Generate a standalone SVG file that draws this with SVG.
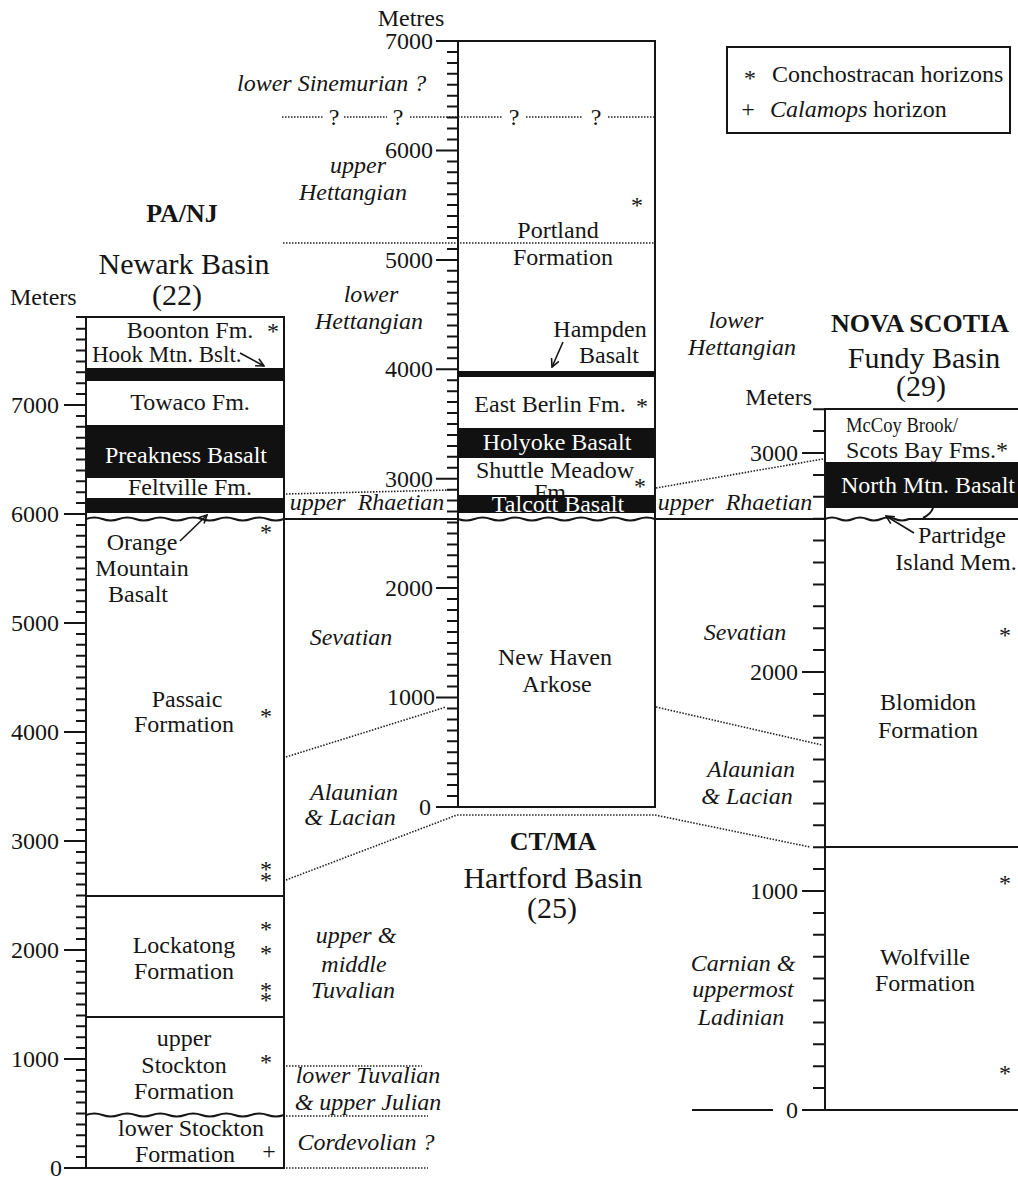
<svg xmlns="http://www.w3.org/2000/svg" width="1018" height="1178" viewBox="0 0 1018 1178">
<style>
text{font-family:"Liberation Serif","Times New Roman",serif;font-size:24px;fill:#151515}
.i{font-style:italic}
.b{font-weight:bold;font-size:26px}
.h{font-size:30px}
.w{fill:#fff}
.m{text-anchor:middle}
.e{text-anchor:end}
.box{fill:#fff;stroke:#151515;stroke-width:2}
.ln{fill:none;stroke:#151515;stroke-width:2}
.band{fill:#111}
.dot{fill:none;stroke:#222;stroke-width:1.6;stroke-dasharray:1.5 1.5}
.arr{fill:none;stroke:#151515;stroke-width:1.6}
</style>
<defs>
<marker id="ah" viewBox="0 0 10 10" refX="9" refY="5" markerWidth="10" markerHeight="10" orient="auto" markerUnits="userSpaceOnUse"><path d="M1 1 L9 5 L1 9" fill="none" stroke="#151515" stroke-width="1.6"/></marker>
</defs>
<rect width="1018" height="1178" fill="#fff"/>

<g id="legend">
<rect x="727" y="47" width="283" height="86" fill="none" stroke="#151515" stroke-width="2"/>
<text x="750" y="86" class="m">*</text>
<text x="772" y="82">Conchostracan horizons</text>
<text x="748" y="117" class="m">+</text>
<text x="770" y="117"><tspan class="i">Calamops</tspan> horizon</text>
</g>

<g id="col-newark">
<text x="182" y="222" class="b m">PA/NJ</text>
<text x="184" y="274" class="h m">Newark Basin</text>
<text x="177" y="305" class="h m">(22)</text>
<text x="10" y="305">Meters</text>
<rect x="86" y="317" width="198" height="851" class="box"/>
<rect x="86" y="368" width="198" height="13" class="band"/>
<rect x="86" y="425" width="198" height="53" class="band"/>
<rect x="86" y="498" width="198" height="15" class="band"/>
<path class="ln" d="M86 896H284M86 1017H284"/>
<path class="ln" d="M86 519q8.25 -3 16.5 0t16.5 0t16.5 0t16.5 0t16.5 0t16.5 0t16.5 0t16.5 0t16.5 0t16.5 0t16.5 0t16.5 0"/>
<path class="ln" d="M86 1115q8.25 -3 16.5 0t16.5 0t16.5 0t16.5 0t16.5 0t16.5 0t16.5 0t16.5 0t16.5 0t16.5 0t16.5 0t16.5 0"/>
<path class="ln" d="M76 1157.1h10M76 1146.2h10M76 1135.3h10M76 1124.4h10M76 1113.5h10M76 1102.6h10M76 1091.7h10M76 1080.8h10M76 1069.9h10M76 1048.1h10M76 1037.2h10M76 1026.3h10M76 1015.4h10M76 1004.5h10M76 993.6h10M76 982.7h10M76 971.8h10M76 960.9h10M76 939.1h10M76 928.2h10M76 917.3h10M76 906.4h10M76 895.5h10M76 884.6h10M76 873.7h10M76 862.8h10M76 851.9h10M76 830.1h10M76 819.2h10M76 808.3h10M76 797.4h10M76 786.5h10M76 775.6h10M76 764.7h10M76 753.8h10M76 742.9h10M76 721.1h10M76 710.2h10M76 699.3h10M76 688.4h10M76 677.5h10M76 666.6h10M76 655.7h10M76 644.8h10M76 633.9h10M76 612.1h10M76 601.2h10M76 590.3h10M76 579.4h10M76 568.5h10M76 557.6h10M76 546.7h10M76 535.8h10M76 524.9h10M76 503.1h10M76 492.2h10M76 481.3h10M76 470.4h10M76 459.5h10M76 448.6h10M76 437.7h10M76 426.8h10M76 415.9h10M76 394.1h10M76 383.2h10M76 372.3h10M76 361.4h10M76 350.5h10M76 339.6h10M76 328.7h10M76 317h10"/>
<path class="ln" d="M64 1168h22M64 1059h22M64 950h22M64 841h22M64 732h22M64 623h22M64 514h22M64 405h22"/>
<text x="59" y="413" class="e">7000</text>
<text x="59" y="522" class="e">6000</text>
<text x="59" y="631" class="e">5000</text>
<text x="59" y="740" class="e">4000</text>
<text x="59" y="849" class="e">3000</text>
<text x="59" y="958" class="e">2000</text>
<text x="59" y="1067" class="e">1000</text>
<text x="62" y="1176" class="e">0</text>
<text x="190" y="338" class="m">Boonton Fm.</text>
<text x="273" y="339" class="m">*</text>
<text x="92" y="362" style="font-size:23px">Hook Mtn. Bslt.</text>
<text x="190" y="410" class="m">Towaco Fm.</text>
<text x="186" y="463" class="m w">Preakness Basalt</text>
<text x="190" y="495" class="m">Feltville Fm.</text>
<text x="142" y="550" class="m">Orange</text>
<text x="142" y="576" class="m">Mountain</text>
<text x="138" y="602" class="m">Basalt</text>
<text x="187" y="707" class="m">Passaic</text>
<text x="184" y="732" class="m">Formation</text>
<text x="184" y="953" class="m">Lockatong</text>
<text x="184" y="979" class="m">Formation</text>
<text x="184" y="1046" class="m">upper</text>
<text x="184" y="1073" class="m">Stockton</text>
<text x="184" y="1099" class="m">Formation</text>
<text x="191" y="1136" class="m">lower Stockton</text>
<text x="185" y="1162" class="m">Formation</text>
<text x="269" y="1159" class="m">+</text>
<text x="266" y="540" class="m">*</text>
<text x="266" y="724" class="m">*</text>
<text x="266" y="877" class="m">*</text>
<text x="266" y="888" class="m">*</text>
<text x="266" y="937" class="m">*</text>
<text x="266" y="961" class="m">*</text>
<text x="266" y="998" class="m">*</text>
<text x="266" y="1008" class="m">*</text>
<text x="266" y="1070" class="m">*</text>
</g>

<g id="col-hartford">
<text x="411" y="26" class="m">Metres</text>
<rect x="458" y="41" width="197" height="766" class="box"/>
<text x="553" y="500" class="m">Fm.</text>
<rect x="458" y="371" width="197" height="6" class="band"/>
<rect x="458" y="428" width="197" height="30" class="band"/>
<rect x="458" y="495" width="197" height="18" class="band"/>
<path class="ln" d="M458 519q8.2 3 16.4 0t16.4 0t16.4 0t16.4 0t16.4 0t16.4 0t16.4 0t16.4 0t16.4 0t16.4 0t16.4 0t16.6 0"/>
<path class="ln" d="M447 796.1h11M447 785.1h11M447 774.2h11M447 763.2h11M447 752.3h11M447 741.3h11M447 730.4h11M447 719.5h11M447 708.5h11M447 686.6h11M447 675.7h11M447 664.7h11M447 653.8h11M447 642.9h11M447 631.9h11M447 621h11M447 610h11M447 599.1h11M447 577.2h11M447 566.3h11M447 555.3h11M447 544.4h11M447 533.4h11M447 522.5h11M447 511.5h11M447 500.6h11M447 489.7h11M447 467.8h11M447 456.8h11M447 445.9h11M447 434.9h11M447 424h11M447 413.1h11M447 402.1h11M447 391.2h11M447 380.2h11M447 358.3h11M447 347.4h11M447 336.5h11M447 325.5h11M447 314.6h11M447 303.6h11M447 292.7h11M447 281.7h11M447 270.8h11M447 248.9h11M447 238h11M447 227h11M447 216.1h11M447 205.1h11M447 194.2h11M447 183.2h11M447 172.3h11M447 161.4h11M447 139.5h11M447 128.5h11M447 117.6h11M447 106.6h11M447 95.7h11M447 84.7h11M447 73.8h11M447 62.9h11M447 51.9h11"/>
<path class="ln" d="M436 807h22M436 697.6h22M436 588.1h22M436 478.7h22M436 369.3h22M436 259.9h22M436 150.4h22M436 41h22"/>
<text x="433" y="49" class="e">7000</text>
<text x="433" y="158" class="e">6000</text>
<text x="433" y="268" class="e">5000</text>
<text x="433" y="377" class="e">4000</text>
<text x="433" y="487" class="e">3000</text>
<text x="433" y="596" class="e">2000</text>
<text x="435" y="705" class="e">1000</text>
<text x="431" y="815" class="e">0</text>
<text x="558" y="238" class="m">Portland</text>
<text x="563" y="265" class="m">Formation</text>
<text x="637" y="213" class="m">*</text>
<text x="600" y="337" class="m">Hampden</text>
<text x="609" y="363" class="m">Basalt</text>
<text x="550" y="412" class="m">East Berlin Fm.</text>
<text x="642" y="414" class="m">*</text>
<text x="557" y="450" class="m w">Holyoke Basalt</text>
<text x="555" y="478" class="m">Shuttle Meadow</text>
<text x="640" y="494" class="m">*</text>
<text x="558" y="512" class="m w">Talcott Basalt</text>
<text x="555" y="665" class="m">New Haven</text>
<text x="557" y="692" class="m">Arkose</text>
<text x="553" y="850" class="b m">CT/MA</text>
<text x="553" y="888" class="h m">Hartford Basin</text>
<text x="552" y="918" class="h m">(25)</text>
</g>

<g id="col-fundy">
<text x="920" y="332" class="b m">NOVA SCOTIA</text>
<text x="924" y="368" class="h m">Fundy Basin</text>
<text x="921" y="396" class="h m">(29)</text>
<text x="812" y="405" class="e">Meters</text>
<rect x="825" y="462" width="193" height="46" class="band"/>
<path class="ln" d="M1018 409H825V1110H1018M825 847H1018"/>
<path class="ln" d="M825 519q7 -3 14 0t14 0t14 0t14 0t14 0t14 0L1018 519M933 508q-2 6 -10 10"/>
<path class="ln" d="M692 1110H773"/>
<path class="ln" d="M813 1088.1h12M813 1066.2h12M813 1044.3h12M813 1022.4h12M813 1000.5h12M813 978.6h12M813 956.7h12M813 934.8h12M813 912.9h12M813 869.1h12M813 847.2h12M813 825.3h12M813 803.4h12M813 781.5h12M813 759.6h12M813 737.7h12M813 715.8h12M813 693.9h12M813 650.1h12M813 628.2h12M813 606.3h12M813 584.4h12M813 562.5h12M813 540.6h12M813 518.7h12M813 496.8h12M813 474.9h12M813 431.1h12M813 409.2h12"/>
<path class="ln" d="M802 1110h23M802 891h23M802 672h23M802 453h23"/>
<text x="798" y="461" class="e">3000</text>
<text x="798" y="680" class="e">2000</text>
<text x="798" y="899" class="e">1000</text>
<text x="798" y="1118" class="e">0</text>
<text x="846" y="432" style="font-size:20px" textLength="112" lengthAdjust="spacingAndGlyphs">McCoy Brook/</text>
<text x="846" y="458">Scots Bay Fms.*</text>
<text x="928" y="493" class="m w">North Mtn. Basalt</text>
<text x="962" y="543" class="m">Partridge</text>
<text x="956" y="570" class="m">Island Mem.</text>
<text x="928" y="710" class="m">Blomidon</text>
<text x="928" y="738" class="m">Formation</text>
<text x="925" y="965" class="m">Wolfville</text>
<text x="925" y="991" class="m">Formation</text>
<text x="1005" y="643" class="m">*</text>
<text x="1005" y="891" class="m">*</text>
<text x="1005" y="1081" class="m">*</text>
</g>

<g id="stage-labels">
<text x="237" y="91" class="i">lower Sinemurian ?</text>
<text x="334" y="125" class="m">?</text>
<text x="398" y="125" class="m">?</text>
<text x="514" y="125" class="m">?</text>
<text x="596" y="125" class="m">?</text>
<text x="358" y="173" class="i m">upper</text>
<text x="353" y="200" class="i m">Hettangian</text>
<text x="371" y="302" class="i m">lower</text>
<text x="369" y="329" class="i m">Hettangian</text>
<text x="736" y="328" class="i m">lower</text>
<text x="742" y="355" class="i m">Hettangian</text>
<text x="367" y="510" class="i m" style="word-spacing:6px">upper Rhaetian</text>
<text x="735" y="510" class="i m" style="word-spacing:6px">upper Rhaetian</text>
<text x="351" y="645" class="i m">Sevatian</text>
<text x="745" y="640" class="i m">Sevatian</text>
<text x="354" y="800" class="i m">Alaunian</text>
<text x="350" y="825" class="i m">&amp; Lacian</text>
<text x="751" y="777" class="i m">Alaunian</text>
<text x="747" y="804" class="i m">&amp; Lacian</text>
<text x="356" y="943" class="i m">upper &amp;</text>
<text x="354" y="972" class="i m">middle</text>
<text x="353" y="998" class="i m">Tuvalian</text>
<text x="743" y="971" class="i m">Carnian &amp;</text>
<text x="743" y="997" class="i m">uppermost</text>
<text x="741" y="1025" class="i m">Ladinian</text>
<text x="368" y="1083" class="i m">lower Tuvalian</text>
<text x="368" y="1110" class="i m">&amp; upper Julian</text>
<text x="366" y="1150" class="i m">Cordevolian ?</text>
</g>

<g id="connectors">
<path class="dot" d="M282 117H324M344 117H387M410 117H503M526 117H583M608 117H655"/>
<path class="dot" d="M283 243H655"/>
<path class="dot" d="M286 494L450 490"/>
<path class="dot" d="M656 488L823 459"/>
<path class="dot" d="M286 757L446 707"/>
<path class="dot" d="M656 707L822 745"/>
<path class="dot" d="M286 880L457 815H655L810 847"/>
<path class="dot" d="M286 1066H422M286 1116H428M286 1168H428"/>
<path class="ln" d="M284 519H458M655 519H825"/>
<path class="arr" d="M240 353L264 366" marker-end="url(#ah)"/>
<path class="arr" d="M180 541L207 515" marker-end="url(#ah)"/>
<path class="arr" d="M563 342L552 367" marker-end="url(#ah)"/>
<path class="arr" d="M914 533L886 516" marker-end="url(#ah)"/>
</g>
</svg>
